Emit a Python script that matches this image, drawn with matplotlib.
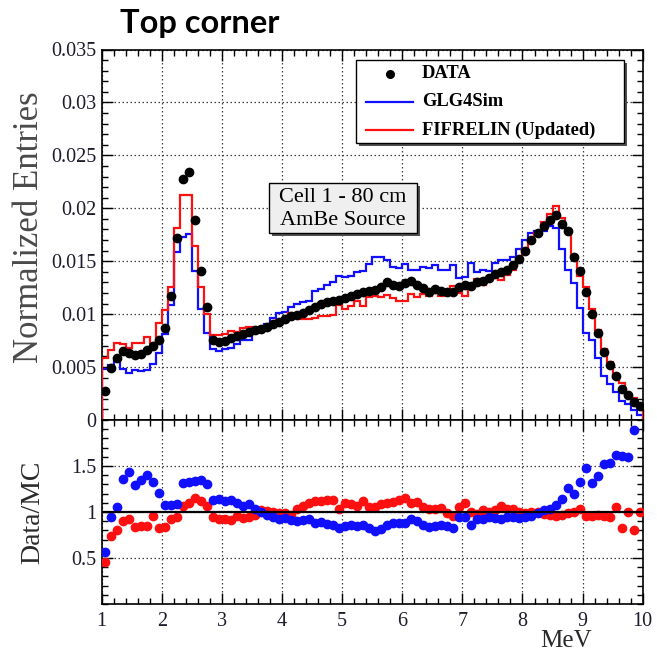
import numpy as np
import matplotlib
matplotlib.use("Agg")
import matplotlib.pyplot as plt
from matplotlib.patches import Rectangle
from matplotlib.lines import Line2D
from matplotlib.ticker import MultipleLocator, FixedLocator

# 0.1 MeV bins from 1 to 10 MeV
edges = np.round(np.arange(1.0, 10.0001, 0.1), 2)
centers = 0.5 * (edges[:-1] + edges[1:])

# normalized entries per bin
data = [
    0.0027, 0.0049, 0.0059, 0.0065, 0.0063, 0.0061, 0.0062, 0.0066, 0.0070, 0.0076,
    0.0087, 0.0117, 0.0172, 0.0228, 0.0234, 0.0189, 0.0141, 0.0107, 0.0076, 0.0074,
    0.0075, 0.0077, 0.0079, 0.0081, 0.0083, 0.0085, 0.0086, 0.0088, 0.0091, 0.0093,
    0.0095, 0.0098, 0.0099, 0.0101, 0.0104, 0.0107, 0.0110, 0.0111, 0.0112, 0.0113,
    0.0115, 0.0117, 0.0119, 0.0121, 0.0122, 0.0123, 0.0126, 0.0130, 0.0128, 0.0127,
    0.0129, 0.0131, 0.0128, 0.0125, 0.0121, 0.0124, 0.0122, 0.0121, 0.0121, 0.0126,
    0.0128, 0.0127, 0.0130, 0.0131, 0.0134, 0.0138, 0.0140, 0.0142, 0.0146, 0.0152,
    0.0160, 0.0170, 0.0177, 0.0183, 0.0189, 0.0194, 0.0185, 0.0179, 0.0154, 0.0141,
    0.0121, 0.0100, 0.0082, 0.0064, 0.0052, 0.0042, 0.0029, 0.0024, 0.0017, 0.0013,
]
glg4sim = [
    0.0048, 0.0052, 0.0056, 0.0048, 0.0044, 0.0047, 0.0046, 0.0047, 0.0053, 0.0063,
    0.0081, 0.0109, 0.0159, 0.0173, 0.0176, 0.0141, 0.0105, 0.0082, 0.0067, 0.0065,
    0.0067, 0.0068, 0.0072, 0.0076, 0.0076, 0.0082, 0.0086, 0.0091, 0.0096, 0.0101,
    0.0102, 0.0107, 0.0110, 0.0111, 0.0112, 0.0122, 0.0124, 0.0128, 0.0130, 0.0136,
    0.0135, 0.0136, 0.0140, 0.0141, 0.0147, 0.0154, 0.0154, 0.0151, 0.0145, 0.0144,
    0.0147, 0.0142, 0.0142, 0.0145, 0.0144, 0.0146, 0.0142, 0.0142, 0.0146, 0.0134,
    0.0135, 0.0148, 0.0140, 0.0142, 0.0141, 0.0148, 0.0151, 0.0151, 0.0154, 0.0162,
    0.0170, 0.0177, 0.0179, 0.0179, 0.0183, 0.0181, 0.0162, 0.0142, 0.0129, 0.0106,
    0.0082, 0.0076, 0.0059, 0.0042, 0.0034, 0.0026, 0.0018, 0.0015, 0.0009, 0.0005,
]
fifrelin = [
    0.0059, 0.0066, 0.0073, 0.0072, 0.0068, 0.0073, 0.0073, 0.0078, 0.0073, 0.0092,
    0.0104, 0.0126, 0.0181, 0.0213, 0.0213, 0.0164, 0.0126, 0.0100, 0.0080, 0.0080,
    0.0081, 0.0084, 0.0083, 0.0087, 0.0088, 0.0088, 0.0084, 0.0087, 0.0091, 0.0094,
    0.0096, 0.0101, 0.0096, 0.0095, 0.0095, 0.0096, 0.0098, 0.0098, 0.0099, 0.0109,
    0.0105, 0.0108, 0.0112, 0.0108, 0.0116, 0.0117, 0.0116, 0.0118, 0.0115, 0.0112,
    0.0112, 0.0119, 0.0116, 0.0119, 0.0117, 0.0120, 0.0117, 0.0122, 0.0127, 0.0120,
    0.0117, 0.0127, 0.0133, 0.0128, 0.0134, 0.0135, 0.0132, 0.0137, 0.0142, 0.0152,
    0.0162, 0.0170, 0.0177, 0.0187, 0.0195, 0.0202, 0.0191, 0.0180, 0.0154, 0.0136,
    0.0126, 0.0105, 0.0085, 0.0067, 0.0055, 0.0040, 0.0035, 0.0024, 0.0021, 0.0013,
]

data = np.array(data)
glg4sim = np.array(glg4sim)
fifrelin = np.array(fifrelin)
ratio_glg = data / glg4sim
ratio_fif = data / fifrelin

BLUE = "#1010ff"
RED = "#ff1010"
SERIF = "Liberation Serif"
TICKCOL = "#1c1c2c"

W, H = 657, 656
fig = plt.figure(figsize=(W / 100, H / 100), dpi=100)

def fx(px):
    return px / W

def fy(py):
    return 1 - py / H

left, right = 101.7, 642.7
top_ax = fig.add_axes([fx(left), fy(420), fx(right) - fx(left), fy(49.5) - fy(420)])
bot_ax = fig.add_axes([fx(left), fy(604), fx(right) - fx(left), fy(420) - fy(604)])

grid_kw = dict(color="0.25", linestyle=(0, (1.2, 2.0)), linewidth=0.9)

for ax in (top_ax, bot_ax):
    ax.set_xlim(1, 10)
    ax.xaxis.set_major_locator(MultipleLocator(1))
    ax.xaxis.set_minor_locator(MultipleLocator(0.2))
    ax.tick_params(which="both", direction="in", top=True, right=True,
                   labelsize=14.5, labelcolor=TICKCOL, width=1.0, color="black")
    ax.tick_params(which="major", length=8)
    ax.tick_params(which="minor", length=4.5)
    ax.grid(True, which="major", **grid_kw)
    ax.set_axisbelow(True)
    for s in ax.spines.values():
        s.set_linewidth(1.2)

# upper panel: spectra
top_ax.set_ylim(0, 0.035)
top_ax.yaxis.set_minor_locator(MultipleLocator(0.001))
top_ax.set_yticks(np.round(np.arange(0, 0.0351, 0.005), 3))
top_ax.set_yticklabels(["0", "0.005", "0.01", "0.015", "0.02", "0.025", "0.03", "0.035"],
                       fontfamily=SERIF)
top_ax.tick_params(axis="x", labelbottom=False)
top_ax.tick_params(axis="y", pad=4)

top_ax.stairs(glg4sim, edges, baseline=0, color=BLUE, linewidth=1.6, zorder=3)
top_ax.stairs(fifrelin, edges, baseline=0, color=RED, linewidth=1.6, zorder=4)
top_ax.plot(centers, data, "o", color="black", markersize=6.0, zorder=5)

# lower panel: data / MC
bot_ax.set_ylim(0, 2)
bot_ax.yaxis.set_major_locator(FixedLocator([0.5, 1.0, 1.5]))
bot_ax.yaxis.set_minor_locator(MultipleLocator(0.1))
bot_ax.set_yticklabels(["0.5", "1", "1.5"], fontfamily=SERIF)
bot_ax.set_xticks(range(1, 11))
bot_ax.set_xticklabels([str(v) for v in range(1, 11)], fontfamily=SERIF)
bot_ax.tick_params(axis="x", pad=6)
bot_ax.tick_params(axis="y", pad=4)

bot_ax.plot(centers, ratio_fif, "o", color=RED, markersize=6.0, zorder=3)
bot_ax.plot(centers, ratio_glg, "o", color=BLUE, markersize=6.0, zorder=4)
bot_ax.axhline(1.0, color="black", linewidth=1.6, zorder=5)

# axis titles
fig.text(fx(30), fy(227), "Normalized Entries", rotation=90, ha="center", va="center",
         fontfamily=SERIF, fontsize=25, color="#4a4a4a")
fig.text(fx(33), fy(512), "Data/MC", rotation=90, ha="center", va="center",
         fontfamily=SERIF, fontsize=20, color="#2a2a2a")
fig.text(fx(566), fy(641), "MeV", ha="center", va="center",
         fontfamily=SERIF, fontsize=18, color="#2a2a2a")

fig.text(fx(120), fy(33), "Top corner", fontfamily="Lato", fontweight="bold",
         fontsize=23.5, color="black", va="baseline")

def framed_box(x0, y0, x1, y1, face):
    shadow = Rectangle((fx(x0 + 3), fy(y1 + 3)), fx(x1) - fx(x0), fy(y0) - fy(y1),
                       transform=fig.transFigure, facecolor="#505050", edgecolor="none",
                       zorder=10)
    box = Rectangle((fx(x0), fy(y1)), fx(x1) - fx(x0), fy(y0) - fy(y1),
                    transform=fig.transFigure, facecolor=face, edgecolor="black",
                    linewidth=1.0, zorder=11)
    fig.add_artist(shadow)
    fig.add_artist(box)

# legend
framed_box(356, 60, 624, 143, "white")
fig.add_artist(Line2D([fx(390)], [fy(74)], marker="o", color="black", markersize=5.5,
                      transform=fig.transFigure, zorder=12))
fig.add_artist(Line2D([fx(366), fx(413)], [fy(102), fy(102)], color=BLUE, linewidth=1.6,
                      transform=fig.transFigure, zorder=12))
fig.add_artist(Line2D([fx(366), fx(413)], [fy(130), fy(130)], color=RED, linewidth=1.6,
                      transform=fig.transFigure, zorder=12))
for ypx, label in [(74, "DATA"), (102, "GLG4Sim"), (130, "FIFRELIN (Updated)")]:
    fig.text(fx(422), fy(ypx), label, ha="left", va="center", fontfamily=SERIF,
             fontweight="bold", fontsize=13.3, color="black", zorder=12)

# detector label
framed_box(269, 183, 417, 233, "#efefef")
fig.text(fx(343), fy(197), "Cell 1 - 80 cm", ha="center", va="center", fontfamily=SERIF,
         fontsize=16, color="black", zorder=12)
fig.text(fx(343), fy(220), "AmBe Source", ha="center", va="center", fontfamily=SERIF,
         fontsize=16, color="black", zorder=12)

fig.savefig("out.png", dpi=100)
